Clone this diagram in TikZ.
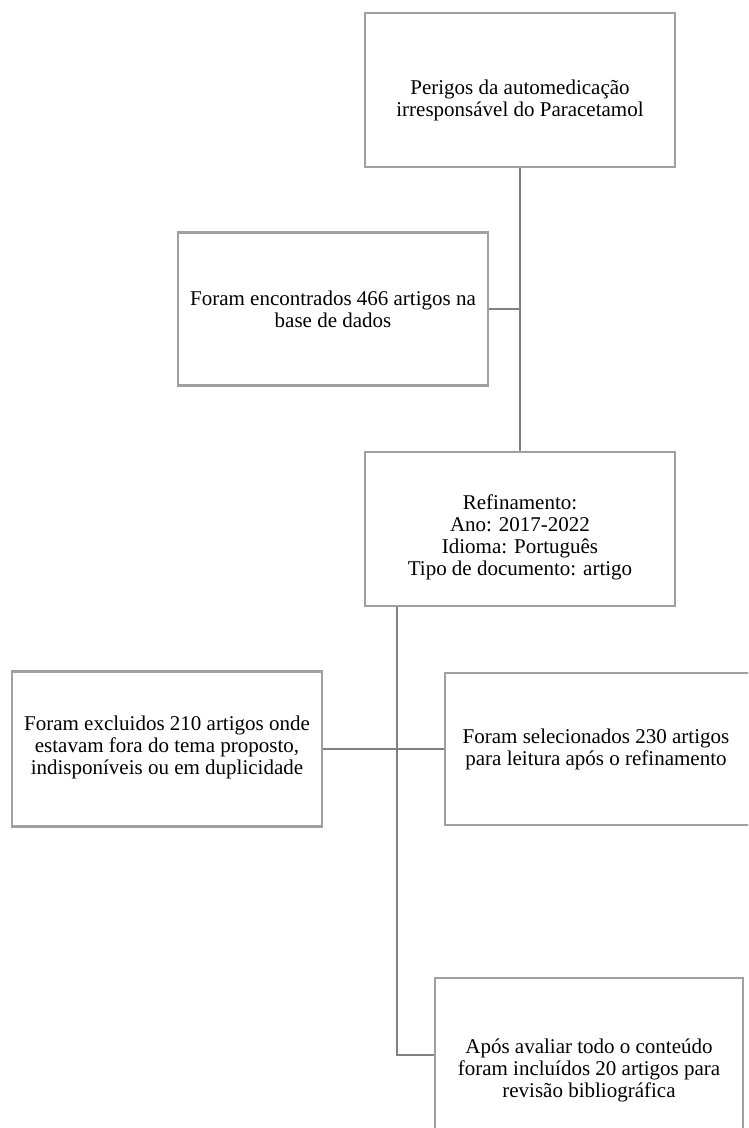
\documentclass[tikz,border=0pt]{standalone}
\usepackage{fontspec}
\setmainfont{Liberation Serif}
\usetikzlibrary{positioning}
\definecolor{boxgray}{RGB}{160,160,160}
\definecolor{linegray}{RGB}{128,128,128}
\tikzset{caixa/.style={draw=boxgray, line width=2.4pt, rectangle, fill=white, inner sep=0pt}}
\tikzset{texto/.style={align=center, inner sep=0pt, font=\fontsize{21}{22}\selectfont}}
\tikzset{liga/.style={draw=linegray, line width=2.8pt}}

\begin{document}
\begin{tikzpicture}[x=1pt,y=-1pt]
\useasboundingbox (0,0) rectangle (748,1128);
\clip (0,0) rectangle (748,1128);

% caixas
\node[caixa, minimum width=310, minimum height=154] (perigos) at (520,90) {};
\node[caixa, minimum width=310, minimum height=153] (encontrados) at (333,309) {};
\node[caixa, minimum width=310, minimum height=154] (refino) at (520,529) {};
\node[caixa, minimum width=310, minimum height=155] (excluidos) at (167,749) {};
\node[caixa, minimum width=310, minimum height=152] (selecionados) at (600,749) {};
\node[caixa, minimum width=308, minimum height=156] (incluidos) at (589,1056) {};

% textos
\node[texto] (perigos-t) at ([yshift=-10pt]perigos.center)
  {Perigos da automedicação\\irresponsável do Paracetamol};
\node[texto] (encontrados-t) at (encontrados.center)
  {Foram encontrados 466 artigos na\\base de dados};
\node[texto] (refino-t) at ([yshift=-8pt]refino.center)
  {Refinamento:\\Ano: 2017-2022\\Idioma: Português\\Tipo de documento: artigo};
\node[texto] (excluidos-t) at ([yshift=2pt]excluidos.center)
  {Foram excluidos 210 artigos onde\\estavam fora do tema proposto,\\indisponíveis ou em duplicidade};
\node[texto] (selecionados-t) at ([xshift=-4pt]selecionados.center)
  {Foram selecionados 230 artigos\\para leitura após o refinamento};
\node[texto] (incluidos-t) at ([yshift=-14pt]incluidos.center)
  {Após avaliar todo o conteúdo\\foram incluídos 20 artigos para\\revisão bibliográfica};

\coordinate (tronco) at (397,1055);

% ligacoes
\draw[liga] (perigos.south) -- (refino.north);
\draw[liga] (encontrados.east) -- (encontrados.east -| perigos.south);
\draw[liga] (refino.south -| tronco) -- (tronco) -- (tronco -| incluidos.west);
\draw[liga] (excluidos.east) -- (selecionados.west);
\end{tikzpicture}
\end{document}
